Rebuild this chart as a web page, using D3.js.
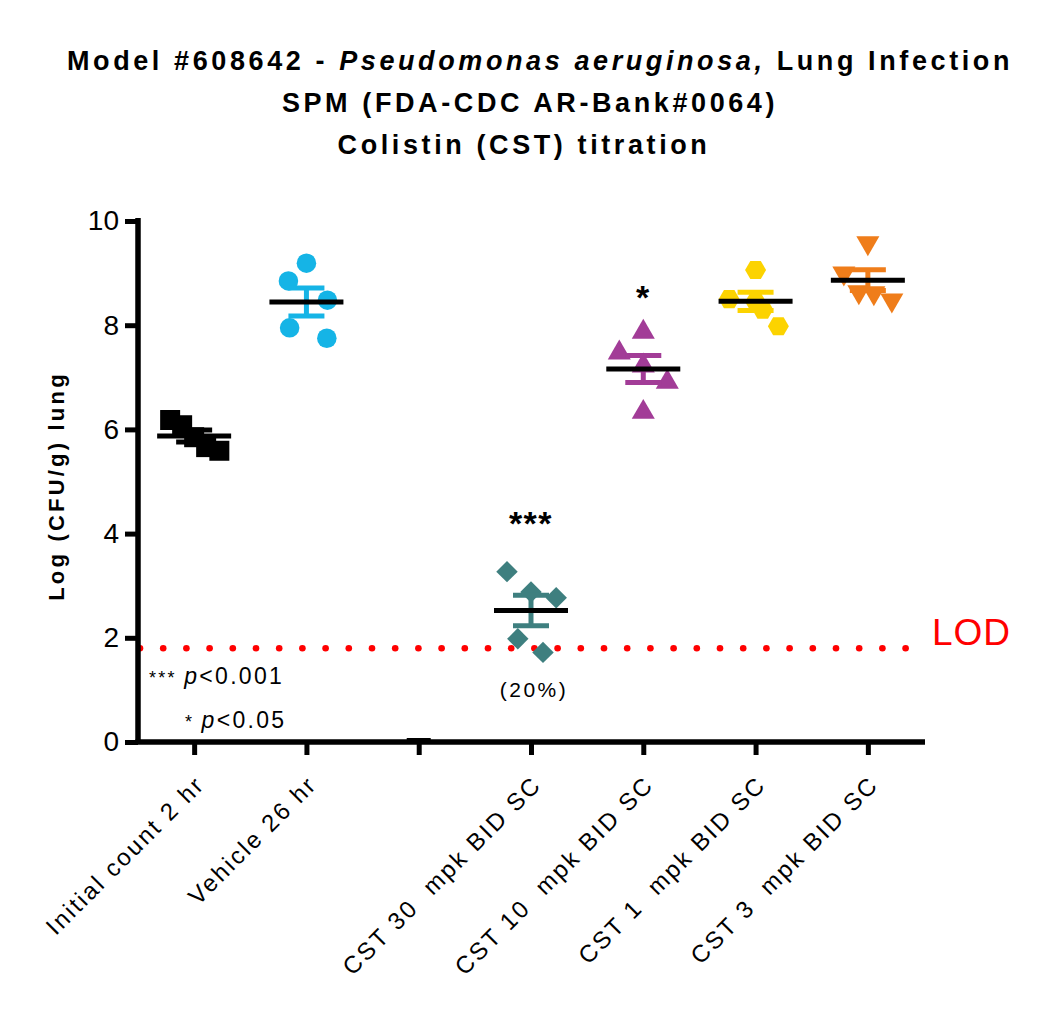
<!DOCTYPE html>
<html>
<head>
<meta charset="utf-8">
<script src="https://cdn.jsdelivr.net/npm/d3@7"></script>
<style>
  body { margin: 0; background: #fff; }
  text { font-family: "Liberation Sans", Arial, sans-serif; white-space: pre; }
</style>
</head>
<body>
<svg id="chart" width="1050" height="1017"></svg>
<script>
// group labels (third slot is an empty column in the original graph)
const groupLabels = ["Initial count 2 hr", "Vehicle 26 hr", "", "CST 30  mpk BID SC",
  "CST 10  mpk BID SC", "CST 1  mpk BID SC", "CST 3  mpk BID SC"];
const groupColors = ["#000000", "#15b4e6", "#000000", "#3e7f7f", "#a23c97", "#fcd300", "#ef7d1a"];
const groupShapes = ["square", "circle", "none", "diamond", "triangle", "hexagon", "invtriangle"];

// log CFU/g per animal
const initialCount = [6.18, 6.08, 5.85, 5.66, 5.59];
const vehicle = [9.19, 8.85, 8.48, 7.95, 7.75];
const blank = [];
const cst30 = [3.27, 2.88, 2.77, 1.98, 1.72];
const cst10 = [7.87, 7.47, 7.22, 6.91, 6.33];
const cst1 = [9.06, 8.5, 8.45, 8.3, 7.98];
const cst3 = [9.58, 9.0, 8.64, 8.62, 8.48];
const seriesValues = [initialCount, vehicle, blank, cst30, cst10, cst1, cst3];

// horizontal scatter slots (GraphPad style spread), in marker half-widths
const jitter = [
  [-2, -1, 0, 1, 2.1],
  [0, -1.5, 1.75, -1.4, 1.7],
  [],
  [-2, 0, 2.1, -1.1, 1],
  [0, -2, 0, 2, 0],
  [0, -2.2, 0, 0.6, 1.9],
  [0, -2, -0.75, 0.5, 2]
];

const yTicks = [0, 2, 4, 6, 8, 10];
const lod = 1.8;
const sigMarks = [{ group: 3, text: "***", value: 4.08 }, { group: 4, text: "*", value: 8.42 }];

const svg = d3.select("#chart");
const x = d3.scalePoint().domain(d3.range(groupLabels.length)).range([138, 924]).padding(0.5);
const y = d3.scaleLinear().domain([0, 10]).range([742, 221]);
const unit = 12;

// title
const title = svg.append("g").attr("font-weight", "bold").attr("font-size", 27)
  .attr("letter-spacing", 3.6).attr("text-anchor", "middle");
const t1 = title.append("text").attr("x", 540).attr("y", 70);
t1.append("tspan").text("Model #608642 - ");
t1.append("tspan").attr("font-style", "italic").text("Pseudomonas aeruginosa,");
t1.append("tspan").text(" Lung Infection");
title.append("text").attr("x", 530).attr("y", 112).text("SPM (FDA-CDC AR-Bank#0064)");
title.append("text").attr("x", 524).attr("y", 154).text("Colistin (CST) titration");

// y axis label
svg.append("text")
  .attr("transform", "translate(64,486) rotate(-90)")
  .attr("text-anchor", "middle")
  .attr("font-weight", "bold").attr("font-size", 22).attr("letter-spacing", 3.2)
  .text("Log (CFU/g) lung");

// LOD dotted line
const lodDots = d3.range(140, 918, 23.2);
svg.append("g").selectAll("circle").data(lodDots).join("circle")
  .attr("cx", d => d).attr("cy", y(lod)).attr("r", 3.3).attr("fill", "#ff0000");
svg.append("text").attr("x", 932).attr("y", 645).attr("font-size", 37).attr("letter-spacing", 1)
  .attr("fill", "#ff0000").text("LOD");

// axes
const yAxis = svg.append("g").attr("transform", "translate(138,0)")
  .call(d3.axisLeft(y).tickValues(yTicks).tickSize(13).tickPadding(6).tickFormat(d3.format("d")));
const xAxis = svg.append("g").attr("transform", `translate(0,${y(0)})`)
  .call(d3.axisBottom(x).tickSize(13).tickFormat(""));
[yAxis, xAxis].forEach(a => {
  a.select(".domain").attr("stroke", "#000").attr("stroke-width", 5.5);
  a.selectAll(".tick line").attr("stroke", "#000").attr("stroke-width", 5);
});
yAxis.select(".domain").attr("d", "M0,742.5V218");
xAxis.select(".domain").attr("d", "M135.5,0H925");
yAxis.selectAll(".tick text").attr("font-size", 28).attr("fill", "#000")
  .attr("font-family", "Liberation Sans, Arial, sans-serif");

// x labels rotated
svg.append("g").selectAll("text").data(groupLabels).join("text")
  .attr("transform", (d, i) => `translate(${x(i) + 12},${y(0) + 44}) rotate(-45)`)
  .attr("text-anchor", "end").attr("font-size", 24).attr("letter-spacing", 2.4)
  .text(d => d);

// marker shapes
const symbolFor = {
  square: d3.symbol(d3.symbolSquare, 400),
  circle: d3.symbol(d3.symbolCircle, 300),
  diamond: d3.symbol(d3.symbolSquare, 230),
  triangle: d3.symbol(d3.symbolTriangle, 230),
  invtriangle: d3.symbol(d3.symbolTriangle, 230)
};
function hexPath(r) {
  const pts = d3.range(6).map(k => {
    const a = Math.PI / 3 * k;
    return [r * Math.cos(a), r * Math.sin(a)];
  });
  return "M" + pts.map(p => p.join(",")).join("L") + "Z";
}
function markPath(shape) {
  return shape === "hexagon" ? hexPath(10.5) : symbolFor[shape]();
}
function markRotate(shape) {
  if (shape === "diamond") return 45;
  if (shape === "invtriangle") return 180;
  return 0;
}

const plot = svg.append("g");
seriesValues.forEach((vals, i) => {
  const shape = groupShapes[i];
  const color = groupColors[i];
  const cx = x(i);
  if (!vals.length) {
    // empty column: GraphPad leaves a stub mean line at 0
    plot.append("line").attr("x1", cx - 12).attr("x2", cx + 12)
      .attr("y1", y(0) - 1).attr("y2", y(0) - 1).attr("stroke", "#000").attr("stroke-width", 6);
    return;
  }
  plot.append("g").selectAll("path").data(vals).join("path")
    .attr("d", markPath(shape))
    .attr("transform", (v, k) => `translate(${cx + jitter[i][k] * unit},${y(v)}) rotate(${markRotate(shape)})`)
    .attr("fill", color);

  const mean = d3.mean(vals);
  const sem = d3.deviation(vals) / Math.sqrt(vals.length);
  const eb = plot.append("g").attr("stroke", color).attr("stroke-width", 5);
  eb.append("line").attr("x1", cx).attr("x2", cx).attr("y1", y(mean - sem)).attr("y2", y(mean + sem));
  [mean - sem, mean + sem].forEach(v => {
    eb.append("line").attr("x1", cx - 18).attr("x2", cx + 18).attr("y1", y(v)).attr("y2", y(v));
  });
  plot.append("line").attr("x1", cx - 37).attr("x2", cx + 37)
    .attr("y1", y(mean)).attr("y2", y(mean)).attr("stroke", "#000").attr("stroke-width", 5);
});

// significance marks
svg.append("g").selectAll("text").data(sigMarks).join("text")
  .attr("x", d => x(d.group)).attr("y", d => y(d.value) + 6)
  .attr("text-anchor", "middle").attr("font-weight", "bold").attr("font-size", 34)
  .attr("letter-spacing", 1.5)
  .text(d => d.text);

svg.append("text").attr("x", x(3) + 3).attr("y", 697).attr("text-anchor", "middle")
  .attr("font-size", 21).attr("letter-spacing", 2.5).text("(20%)");

const key1 = svg.append("text").attr("x", 149).attr("y", 684).attr("font-size", 23).attr("letter-spacing", 2.3);
key1.append("tspan").attr("font-size", 18).text("*** ");
key1.append("tspan").attr("font-style", "italic").text("p");
key1.append("tspan").text("<0.001");
const key2 = svg.append("text").attr("x", 185).attr("y", 728).attr("font-size", 23).attr("letter-spacing", 2.3);
key2.append("tspan").attr("font-size", 18).text("* ");
key2.append("tspan").attr("font-style", "italic").text("p");
key2.append("tspan").text("<0.05");
</script>
</body>
</html>
